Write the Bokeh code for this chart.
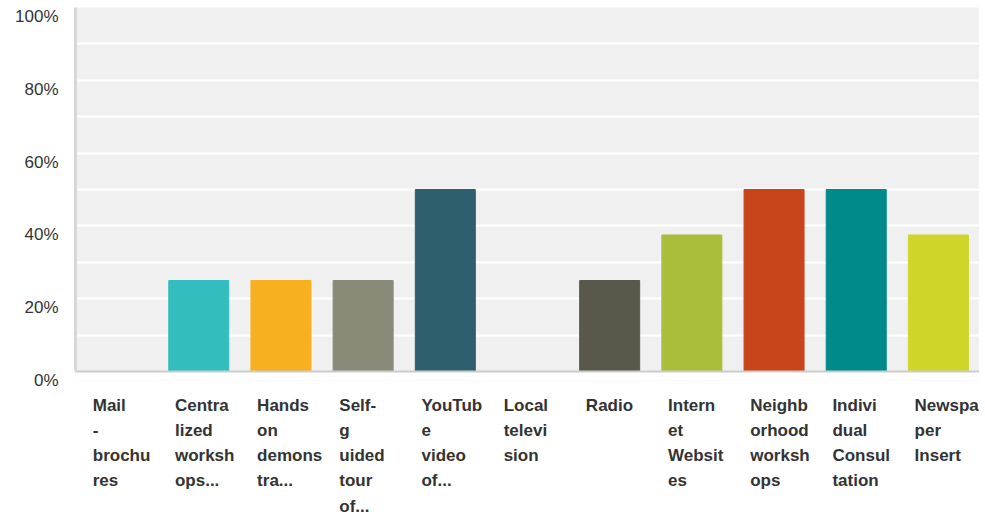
from bokeh.plotting import figure
from bokeh.layouts import column
from bokeh.models import ColumnDataSource, FixedTicker, Range1d, LinearAxis, BoxAnnotation
from bokeh.core.properties import value
from bokeh.embed import file_html
from bokeh.resources import INLINE

categories = ["Mail - brochures", "Centralized workshops...", "Hands on demonstra...",
              "Self-guided tour of...", "YouTube video of...", "Local television", "Radio",
              "Internet Websites", "Neighborhood workshops", "Individual Consultation",
              "Newspaper Insert"]
wrapped = ["Mail\n-\nbrochu\nres", "Centra\nlized\nworksh\nops...", "Hands\non\ndemons\ntra...",
           "Self-\ng\nuided\ntour\nof...", "YouTub\ne\nvideo\nof...", "Local\ntelevi\nsion", "Radio",
           "Intern\net\nWebsit\nes", "Neighb\norhood\nworksh\nops", "Indivi\ndual\nConsul\ntation",
           "Newspa\nper\nInsert"]
values = [0, 25, 25, 25, 50, 0, 25, 37.5, 50, 50, 37.5]
colors = ["#33bdbf", "#33bdbf", "#f7b01f", "#8a8a78", "#2e5f6c", "#2e5f6c", "#5a584a",
          "#abbd3a", "#c8451c", "#008a8a", "#d0d52a"]
yticks = [0, 20, 40, 60, 80, 100]
ytick_labels = ["0%", "20%", "40%", "60%", "80%", "100%"]

n = len(categories)
idx = list(range(n))
xr = Range1d(0, n)
s = 9 * 100 / 364  # labels hang 9px below their grid lines

p = figure(width=979, height=390, x_range=xr, y_range=Range1d(-s, 100),
           output_backend="svg", toolbar_location=None,
           min_border_left=75, min_border_right=0, min_border_top=7, min_border_bottom=10)
p.background_fill_color = "#f0f0f0"
p.border_fill_color = "white"
p.outline_line_color = None
p.add_layout(BoxAnnotation(bottom=-s, top=0, fill_color="white", fill_alpha=1,
                           line_color=None, level="underlay"))

src = ColumnDataSource(dict(cat=categories, pos=[i + 0.5 for i in idx], val=values, color=colors))
p.vbar(x="pos", top="val", width=0.73, color="color", source=src)

p.ygrid.ticker = FixedTicker(ticks=list(range(10, 101, 10)))
p.ygrid.grid_line_color = "white"
p.ygrid.grid_line_width = 2
p.xgrid.grid_line_color = None

# main y axis: only the grey line from 0 to 100
p.yaxis.ticker = FixedTicker(ticks=[])
p.yaxis.bounds = (0, 100)
p.yaxis.major_label_standoff = 0
p.yaxis.major_tick_out = 0
p.yaxis.major_tick_line_color = None
p.yaxis.minor_tick_line_color = None
p.yaxis.axis_line_color = "#d8d8d8"
p.yaxis.axis_line_width = 3

# label axis
lab_pos = [t - s for t in yticks]
yl = LinearAxis()
yl.ticker = FixedTicker(ticks=lab_pos)
yl.major_label_overrides = {t: l for t, l in zip(lab_pos, ytick_labels)}
yl.major_label_text_font = "Liberation Sans"
yl.major_label_text_font_size = "17px"
yl.major_label_text_color = "#333333"
yl.major_label_standoff = 17
yl.major_tick_line_color = None
yl.major_tick_out = 0
yl.minor_tick_line_color = None
yl.axis_line_color = None
p.add_layout(yl, "left")

p.xaxis.fixed_location = 0
p.xaxis.ticker = FixedTicker(ticks=[])
p.xaxis.major_label_standoff = 0
p.xaxis.major_tick_out = 0
p.xaxis.major_tick_line_color = None
p.xaxis.minor_tick_line_color = None
p.xaxis.axis_line_color = "#cccccc"
p.xaxis.axis_line_width = 2

# category labels below
q = figure(width=979, height=126, x_range=xr, y_range=Range1d(0, 1),
           output_backend="svg", toolbar_location=None,
           x_axis_location=None, y_axis_location=None,
           min_border_left=75, min_border_right=0, min_border_top=0, min_border_bottom=0)
q.background_fill_color = "white"
q.border_fill_color = "white"
q.outline_line_color = None
q.xgrid.grid_line_color = None
q.ygrid.grid_line_color = None
lsrc = ColumnDataSource(dict(x=[i + 0.21 for i in idx], y=[1] * n, t=wrapped))
q.text(x="x", y="y", text="t", source=lsrc, y_offset=5,
       text_align="left", text_baseline="top", text_font=value("Liberation Sans"),
       text_font_style="bold", text_font_size="17px", text_color="#333333",
       text_line_height=1.33)

layout = column(p, q, spacing=0)
open("out.html", "w").write(file_html(layout, INLINE))
